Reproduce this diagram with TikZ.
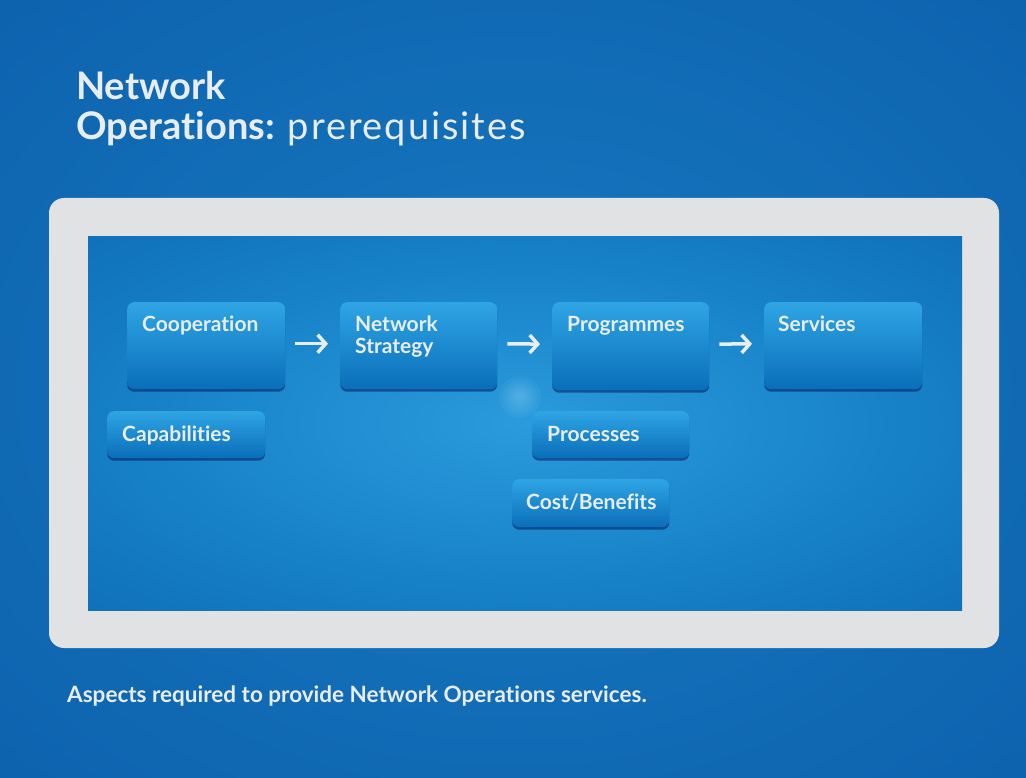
\documentclass[tikz,border=0pt]{standalone}
\usepackage{fontspec}
\setmainfont{Lato}[Ligatures=NoCommon]
\usetikzlibrary{arrows.meta,shadows}
\definecolor{txt}{HTML}{E8EDF2}
\definecolor{framec}{HTML}{E1E2E4}
\definecolor{boxtop}{HTML}{2FA5E4}
\definecolor{boxbot}{HTML}{0A6EBA}
\definecolor{bgA}{HTML}{1879C1}
\definecolor{bgB}{HTML}{0959A6}
\definecolor{bgC}{HTML}{054F9C}
\definecolor{inA}{HTML}{2A9BDC}
\definecolor{inB}{HTML}{1883C9}
\definecolor{inC}{HTML}{0760AB}
\definecolor{glowc}{HTML}{8FD2F5}
\pgfdeclareradialshading{bgshade}{\pgfpoint{0bp}{0bp}}{color(0bp)=(bgA); color(50bp)=(bgB); color(72bp)=(bgC)}
\pgfdeclareradialshading{inshade}{\pgfpoint{0bp}{0bp}}{color(0bp)=(inA); color(20bp)=(inB); color(50bp)=(inC); color(72bp)=(inC)}
\begin{document}
\begin{tikzpicture}[x=1pt,y=-1pt,
  box/.style={draw=none, rounded corners=7pt, top color=boxtop, bottom color=boxbot,
    drop shadow={opacity=0.45, shadow xshift=0pt, shadow yshift=-2.5pt, fill=black!75!blue},
    inner sep=0pt, anchor=north west},
  lbl/.style={font=\bfseries\fontsize{21}{24}\selectfont, text=txt, inner sep=0pt, anchor=base west},
  arr/.style={draw=txt, line width=3.5pt, -{Straight Barb[length=8pt,width=18pt]}, shorten <=10pt, shorten >=12pt}]
\useasboundingbox (0,0) rectangle (1026,778);
% background
\shade[shading=bgshade] (0,0) rectangle (1026,778);
% frame
\fill[framec, rounded corners=15pt] (49,198) rectangle (999,648);
\shade[shading=inshade] (88,237) rectangle (962,610);
% glow
\foreach \r in {21,17,14,11,8,5}
  \fill[glowc, opacity=0.08] (520,397) circle (\r pt);
% title
\node[font=\bfseries\fontsize{38}{42}\selectfont, text=txt, inner sep=0pt, anchor=base west] (t1) at (76,100) {Network};
\node[font=\fontsize{38}{42}\selectfont, text=txt, inner sep=0pt, anchor=base west] (t2) at (76,140) {\textbf{Operations:} {\addfontfeature{LetterSpace=5}prerequisites}};
% boxes
\node[box, minimum width=158pt, minimum height=87pt] (coop) at (127,302) {};
\node[box, minimum width=157pt, minimum height=87pt] (ns) at (340,302) {};
\node[box, minimum width=157pt, minimum height=88pt] (prog) at (552,302) {};
\node[box, minimum width=158pt, minimum height=87pt] (serv) at (764,302) {};
\node[box, minimum width=158pt, minimum height=47pt] (cap) at (107,411) {};
\node[box, minimum width=157pt, minimum height=47pt] (proc) at (532,411) {};
\node[box, minimum width=157pt, minimum height=48pt] (cost) at (512,479) {};
% labels
\node[lbl] (coopt) at ([xshift=15pt,yshift=-29pt]coop.north west) {Cooperation};
\node[lbl] (nst1) at ([xshift=15pt,yshift=-29pt]ns.north west) {Network};
\node[lbl] (nst2) at ([xshift=15pt,yshift=-51pt]ns.north west) {Strategy};
\node[lbl] (progt) at ([xshift=15pt,yshift=-29pt]prog.north west) {Programmes};
\node[lbl] (servt) at ([xshift=14pt,yshift=-29pt]serv.north west) {Services};
\node[lbl] (capt) at ([xshift=15pt,yshift=-30pt]cap.north west) {Capabilities};
\node[lbl] (proct) at ([xshift=15pt,yshift=-30pt]proc.north west) {Processes};
\node[lbl] (costt) at ([xshift=14pt,yshift=-30pt]cost.north west) {Cost/Benefits};
% arrows
\draw[arr] ([yshift=2pt]coop.east) -- ([yshift=2pt]ns.west);
\draw[arr] ([yshift=2pt]ns.east) -- ([yshift=2pt]prog.west);
\draw[arr] ([yshift=2pt]prog.east) -- ([yshift=2pt]serv.west);
% caption
\node[font=\bfseries\fontsize{22.5}{26}\selectfont, text=txt, inner sep=0pt, anchor=base west] (cap2) at (67,702) {Aspects required to provide Network Operations services.};
\end{tikzpicture}
\end{document}
